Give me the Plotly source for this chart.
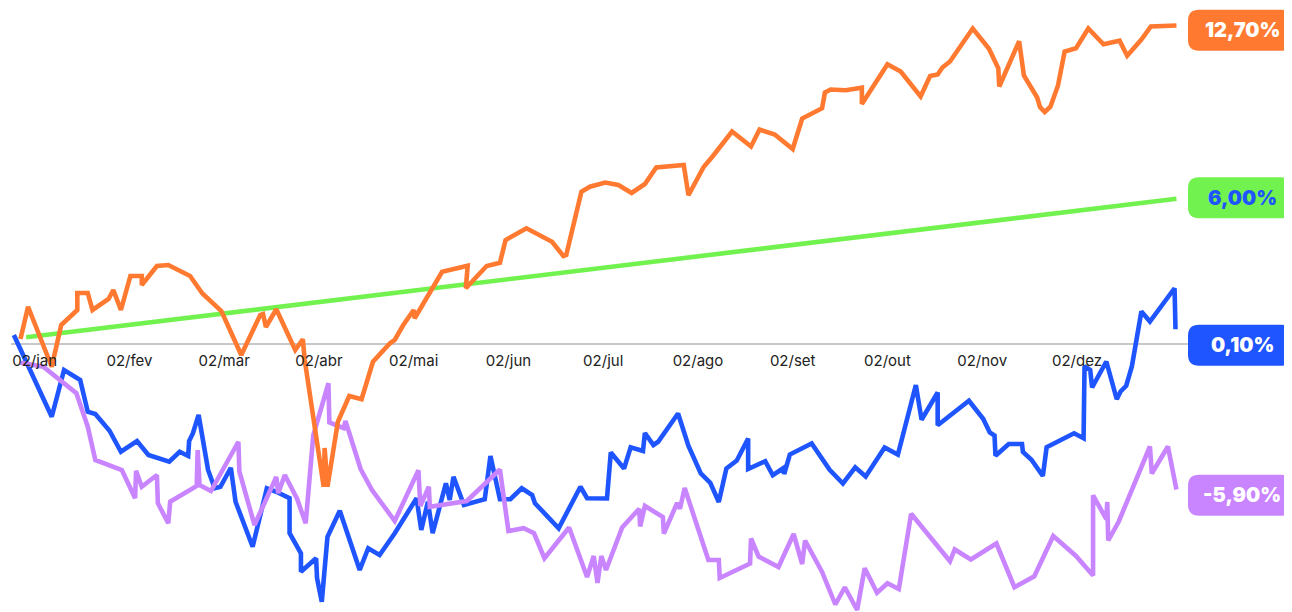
import plotly.graph_objects as go

# ---------------- data ----------------
months = ["jan", "fev", "mar", "abr", "mai", "jun", "jul", "ago", "set", "out", "nov", "dez"]
tick_text = ["02/" + m for m in months]
tick_pos = list(range(12))  # month index (0 = 02/jan)

# x: time in months since 02/jan, y: cumulative return in %
orange_x = [-0.15, -0.07, 0.18, 0.28, 0.45, 0.45, 0.56, 0.61, 0.78, 0.83, 0.91, 1.01, 1.13, 1.13, 1.29, 1.41,
            1.64, 1.77, 1.97, 2.18, 2.38, 2.41, 2.44, 2.55, 2.75, 2.83, 2.85, 2.95, 3.05, 3.06, 3.09, 3.20,
            3.32, 3.45, 3.57, 3.75, 3.80, 3.89, 4.00, 4.01, 4.30, 4.57, 4.55, 4.77, 4.91, 4.97, 5.19, 5.46,
            5.58, 5.61, 5.77, 5.86, 6.02, 6.16, 6.30, 6.44, 6.56, 6.85, 6.90, 7.06, 7.15, 7.36, 7.56, 7.65,
            7.81, 8.00, 8.10, 8.31, 8.34, 8.40, 8.56, 8.73, 8.73, 9.00, 9.14, 9.35, 9.45, 9.53, 9.58, 9.66,
            9.90, 10.07, 10.17, 10.18, 10.39, 10.44, 10.58, 10.61, 10.66, 10.72, 10.80, 10.87, 10.99, 11.12,
            11.26, 11.28, 11.45, 11.53, 11.68, 11.78, 12.05]
orange_y = [0.20, 1.49, -0.91, 0.76, 1.36, 2.04, 2.04, 1.36, 1.80, 2.16, 1.36, 2.72, 2.72, 2.36, 3.12, 3.16,
            2.72, 2.02, 1.32, -0.44, 1.16, 1.20, 0.68, 1.39, -0.24, 0.19, -0.64, -3.31, -5.71, -4.16, -5.71, -3.11,
            -2.08, -2.21, -0.71, 0.03, 0.16, 0.76, 1.36, 1.03, 2.89, 3.13, 2.23, 3.12, 3.25, 4.16, 4.63, 4.09,
            3.52, 3.56, 6.09, 6.29, 6.46, 6.36, 6.04, 6.40, 7.06, 7.16, 5.95, 7.08, 7.48, 8.50, 7.90, 8.58,
            8.38, 7.80, 9.02, 9.43, 10.06, 10.18, 10.15, 10.25, 9.60, 11.19, 10.90, 9.90, 10.72, 10.78, 11.06, 11.30,
            12.62, 11.82, 11.03, 10.30, 12.11, 10.74, 9.86, 9.48, 9.28, 9.49, 10.34, 11.70, 11.83, 12.62,
            12.06, 11.99, 12.13, 11.53, 12.18, 12.70, 12.74]

green_x = [-0.09, 12.05]
green_y = [0.27, 5.81]

blue_x = [-0.22, 0.18, 0.31, 0.48, 0.56, 0.64, 0.79, 0.91, 1.08, 1.20, 1.42, 1.53, 1.62, 1.63, 1.67, 1.73,
          1.83, 1.90, 1.96, 2.07, 2.12, 2.30, 2.45, 2.55, 2.69, 2.69, 2.81, 2.81, 2.97, 2.98, 3.03, 3.09,
          3.22, 3.43, 3.52, 3.64, 3.80, 4.03, 4.08, 4.15, 4.20, 4.34, 4.38, 4.42, 4.53, 4.75, 4.81, 4.91,
          5.02, 5.14, 5.25, 5.28, 5.53, 5.76, 5.83, 6.04, 6.08, 6.22, 6.29, 6.42, 6.44, 6.53, 6.58, 6.79,
          6.90, 7.03, 7.13, 7.22, 7.30, 7.41, 7.53, 7.53, 7.71, 7.79, 7.90, 7.91, 7.97, 8.20, 8.39, 8.53,
          8.66, 8.77, 8.97, 9.11, 9.30, 9.36, 9.53, 9.53, 9.86, 9.96, 10.01, 10.08, 10.13, 10.14, 10.28, 10.42,
          10.43, 10.52, 10.64, 10.68, 10.97, 11.07, 11.08, 11.14, 11.16, 11.31, 11.42, 11.46, 11.52, 11.58,
          11.68, 11.77, 12.03, 12.04]
blue_y = [0.36, -2.91, -1.04, -1.44, -2.71, -2.80, -3.47, -4.31, -3.88, -4.44, -4.71, -4.31, -4.48, -3.88, -3.57, -2.84,
          -5.04, -5.77, -5.71, -4.95, -6.31, -8.11, -5.77, -5.91, -6.17, -7.57, -8.37, -9.11, -8.57, -9.37, -10.31, -7.71,
          -6.67, -9.04, -8.17, -8.44, -7.57, -6.17, -7.44, -6.31, -7.57, -5.57, -6.24, -5.31, -6.44, -6.21, -4.48, -6.21,
          -6.21, -5.77, -6.04, -6.37, -7.37, -5.71, -6.17, -6.18, -4.34, -4.98, -4.13, -4.28, -3.56, -4.04, -3.91, -2.78,
          -4.08, -5.18, -5.55, -6.32, -4.98, -4.66, -3.78, -5.00, -4.69, -5.25, -4.97, -5.20, -4.42, -3.98, -5.03, -5.58,
          -4.93, -5.30, -4.14, -4.42, -1.64, -3.03, -1.94, -3.25, -2.27, -2.77, -2.99, -3.54, -3.66, -4.47, -4.00, -4.00,
          -4.32, -4.63, -5.28, -4.13, -3.57, -3.77, -0.89, -1.04, -1.74, -0.70, -2.21, -1.90, -1.67, -0.89,
          1.30, 0.90, 2.23, 0.59]

purple_x = [-0.15, 0.09, 0.44, 0.56, 0.64, 0.92, 1.06, 1.07, 1.13, 1.29, 1.30, 1.41, 1.43, 1.71, 1.72, 1.74,
            1.86, 2.15, 2.16, 2.32, 2.55, 2.57, 2.64, 2.77, 2.86, 2.94, 3.10, 3.11, 3.26, 3.28, 3.44, 3.56,
            3.80, 4.05, 4.07, 4.16, 4.17, 4.56, 4.91, 5.00, 5.16, 5.27, 5.38, 5.64, 5.83, 5.90, 5.94, 5.98,
            6.03, 6.20, 6.38, 6.39, 6.44, 6.63, 6.64, 6.78, 6.81, 6.86, 7.11, 7.22, 7.23, 7.55, 7.56, 7.64,
            7.85, 8.01, 8.10, 8.13, 8.31, 8.45, 8.55, 8.68, 8.76, 8.89, 9.00, 9.12, 9.25, 9.66, 9.71, 9.88,
            10.15, 10.34, 10.55, 10.75, 10.99, 11.17, 11.17, 11.31, 11.32, 11.33, 11.44, 11.77, 11.79, 11.96, 12.05]
purple_y = [-0.75, -0.91, -1.97, -3.31, -4.64, -5.04, -6.17, -5.07, -5.71, -5.24, -6.37, -7.17, -6.31, -5.68, -4.24, -5.64,
            -5.88, -3.91, -5.10, -7.24, -5.32, -5.97, -5.24, -6.20, -7.17, -3.66, -1.57, -3.14, -3.37, -3.08, -5.00, -5.84,
            -7.08, -5.05, -6.48, -5.71, -6.51, -6.28, -5.02, -7.48, -7.37, -7.57, -8.57, -7.34, -9.32, -8.48, -9.56, -8.48,
            -9.04, -7.34, -6.59, -7.30, -6.48, -6.92, -7.58, -6.36, -6.59, -5.76, -8.64, -8.64, -9.36, -8.78, -7.78, -8.50,
            -8.92, -7.60, -8.80, -7.86, -9.12, -10.42, -9.73, -10.64, -8.97, -9.95, -9.57, -9.80, -6.79, -8.69, -8.22, -8.62,
            -7.98, -9.73, -9.29, -7.68, -8.48, -9.26, -6.05, -7.01, -6.32, -7.86, -7.11, -4.10, -5.18, -4.10, -5.82]

final_labels = ["12,70%", "6,00%", "0,10%", "-5,90%"]
final_values = [12.70, 6.00, 0.10, -5.90]

# ---------------- styles ----------------
C_ORANGE = "#FF7A30"
C_GREEN = "#72F24E"
C_BLUE = "#1F55FF"
C_PURPLE = "#C985FF"
badge_fill = [C_ORANGE, C_GREEN, C_BLUE, C_PURPLE]
badge_text = ["#FFFFFF", C_BLUE, "#FFFFFF", "#FFFFFF"]

# page has an 8px body margin: figure is sized/offset to compensate
W, H = 1284, 604
ML, MR = 3, 104
plot_w = W - ML - MR
y_min, y_max = -10.72, 13.44
x_min, x_max = -0.25, 12.172
px_per_y = H / (y_max - y_min)

fig = go.Figure()
series = [
    (green_x, green_y, C_GREEN),
    (blue_x, blue_y, C_BLUE),
    (purple_x, purple_y, C_PURPLE),
    (orange_x, orange_y, C_ORANGE),
]
for xs, ys, col in series:
    fig.add_trace(go.Scatter(x=xs, y=ys, mode="lines", line=dict(color=col, width=4.6),
                             hoverinfo="skip", showlegend=False, cliponaxis=False))

# badges on the right
bx0 = 1.0
bx1 = (W - ML) / plot_w
rx = 11 / plot_w
ry = 11 / px_per_y
half_h = 20.5 / px_per_y
shapes, annotations = [], []
for lab, val, fill, tcol in zip(final_labels, final_values, badge_fill, badge_text):
    c = val - 0.15
    y0, y1 = c - half_h, c + half_h
    path = (f"M {bx0+rx},{y1} L {bx1-rx},{y1} Q {bx1},{y1} {bx1},{y1-ry} "
            f"L {bx1},{y0+ry} Q {bx1},{y0} {bx1-rx},{y0} L {bx0+rx},{y0} "
            f"Q {bx0},{y0} {bx0},{y0+ry} L {bx0},{y1-ry} Q {bx0},{y1} {bx0+rx},{y1} Z")
    shapes.append(dict(type="path", xref="paper", yref="y", path=path,
                       fillcolor=fill, line=dict(width=0), layer="above"))
    annotations.append(dict(xref="paper", yref="y", x=1.0 + 54 / plot_w, y=c,
                            text=lab, showarrow=False, xanchor="center", yanchor="middle",
                            font=dict(family="Inter, Lato, sans-serif", size=20, color=tcol, weight=900)))

zero_frac = (0 - y_min) / (y_max - y_min)

fig.update_layout(
    width=W, height=H,
    margin=dict(l=ML, r=MR, t=0, b=0, pad=0),
    paper_bgcolor="white", plot_bgcolor="white",
    shapes=shapes, annotations=annotations,
    xaxis=dict(range=[x_min, x_max], tickvals=tick_pos, ticktext=tick_text,
               showgrid=False, zeroline=False, showline=False,
               ticks="outside", ticklen=3, tickcolor="rgba(0,0,0,0)",
               anchor="free", position=zero_frac,
               tickfont=dict(family="Inter, sans-serif", size=15, color="#222222")),
    yaxis=dict(range=[y_min, y_max], showgrid=False, showticklabels=False,
               zeroline=True, zerolinecolor="#C8C8C8", zerolinewidth=2, ticks=""),
)

fig.write_html("out.html")
